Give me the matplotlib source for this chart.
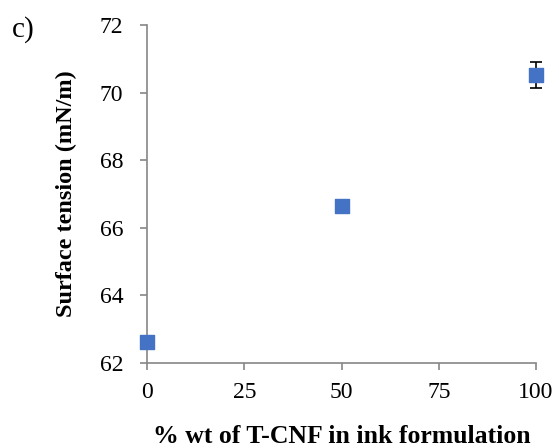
import matplotlib
matplotlib.use("Agg")
import matplotlib.pyplot as plt

plt.rcParams['font.family'] = ['Liberation Serif', 'DejaVu Serif']

# data
wt_pct = [0, 50, 100]
tension = [62.62, 66.64, 70.52]
tension_err = [0, 0, 0.39]
x_ticks = [0, 25, 50, 75, 100]
y_ticks = [62, 64, 66, 68, 70, 72]

fig = plt.figure(figsize=(5.59, 4.48), dpi=100)
ax = fig.add_axes([0.263, 0.19, 0.696, 0.754])

ax.errorbar(wt_pct, tension, yerr=tension_err, fmt='none', ecolor='black',
            elinewidth=1.2, capsize=4, capthick=1.2, zorder=2, clip_on=False)
ax.scatter(wt_pct, tension, marker='s', s=110, color='#4472C4', zorder=3,
           clip_on=False)

ax.set_xlim(0, 100)
ax.set_ylim(62, 72)
ax.set_xticks(x_ticks)
ax.set_yticks(y_ticks)
for side in ['top', 'right']:
    ax.spines[side].set_visible(False)
for side in ['left', 'bottom']:
    ax.spines[side].set_color('#868686')
    ax.spines[side].set_linewidth(1.2)
ax.tick_params(axis='both', colors='#868686', labelcolor='black',
               labelsize=17, length=5, width=1.2, direction='out')
ax.tick_params(axis='x', pad=9)
ax.tick_params(axis='y', pad=12)

ax.set_xlabel('% wt of T-CNF in ink formulation', fontsize=18.5,
              fontweight='bold', va='center')
ax.set_ylabel('Surface tension (mN/m)', fontsize=17.5, fontweight='bold',
              va='center')
ax.xaxis.set_label_coords(0.5, -0.219)
ax.yaxis.set_label_coords(-0.208, 0.5)

fig.text(0.021, 0.918, 'c)', fontsize=21)

fig.savefig('out.png', dpi=100)
